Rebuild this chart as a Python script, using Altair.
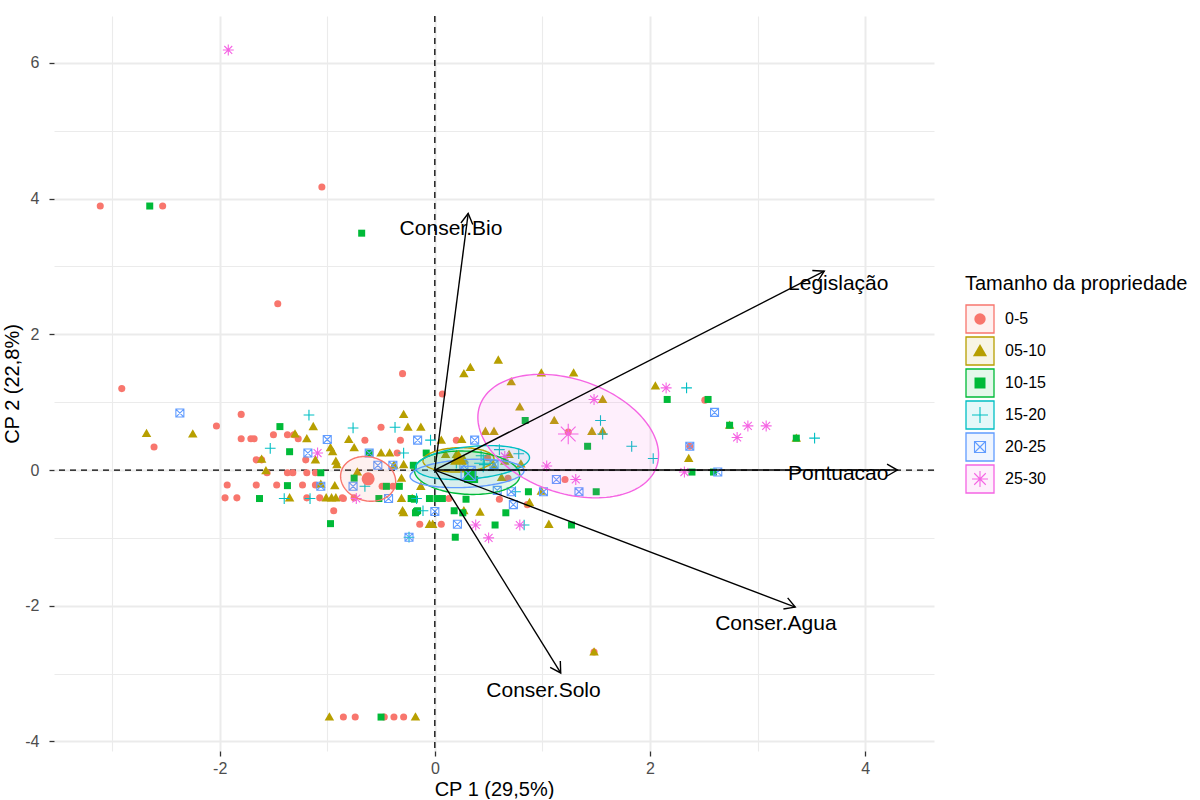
import numpy as np
import pandas as pd
import altair as alt

# ---------------- data ----------------
groups = ["0-5", "05-10", "10-15", "15-20", "20-25", "25-30"]
colors = ["#F8766D", "#B79F00", "#00BA38", "#00BFC4", "#619CFF", "#F564E3"]
legend_title = "Tamanho da propriedade"

g1_x = [-3.11, -2.53, -1.05, -1.46, -2.91, -0.30, 0.07, -2.61, -2.03, -1.80, -1.80, -1.71, -1.68,
        -1.50, -1.37, -1.31, -1.27, -1.66, -1.61, -1.20, -1.56, -1.37, -1.32, -1.19, -1.11,
        -1.93, -1.66, -1.47, -1.23, -1.11, -1.95, -1.84, -1.19, -1.07, -0.86, -0.75, -0.94,
        -0.65, -0.50, -0.32, 0.20, -0.49, -0.39, -0.35, -0.85, 0.13, -0.14, 0.06, 0.60, 0.86,
        1.21, 2.51, 2.37, 0.49, 0.68, 1.24, -0.85, -0.74, -0.47, -0.38, -0.29, 1.48]
g1_y = [3.89, 3.89, 4.17, 2.45, 1.20, 1.42, 1.12, 0.34, 0.65, 0.82, 0.46, 0.46, 0.46,
        0.52, 0.52, 0.52, 0.46, 0.15, 0.15, 0.15, -0.04, -0.04, -0.04, -0.04, -0.04,
        -0.22, -0.22, -0.22, -0.22, -0.22, -0.41, -0.41, -0.41, -0.41, -0.41, -0.41, -0.60,
        0.44, 0.63, 0.44, 0.44, -0.24, -0.24, 0.25, -0.42, -0.42, -0.80, -0.80, -0.43, -0.51,
        -0.14, 1.03, 0.35, 0.18, -0.12, 0.56, -3.64, -3.64, -3.64, -3.64, -3.64, -2.68]

g2_x = [-2.68, -2.25, -1.61, -1.30, -1.19, -1.13, -0.97, -0.95, -0.80, -0.75, -1.11, -0.92, -0.91,
        -1.57, -1.06, -0.93, -1.35, -1.01, -0.96, -0.92, -0.29, -0.25, -0.13, -0.50, -0.42, -0.38,
        -0.29, -0.72, -0.31, -0.13, -0.31, -0.21, -0.30, 0.27, -0.05, -0.02, 0.59, 0.27, 0.33,
        0.99, 1.29, 0.71, 0.79, 1.11, 0.47, 0.55, 0.25, 0.06, 1.46, 1.56, 1.56, 2.05, 2.36, 2.74,
        3.36, 0.99, 0.88, 0.42, 1.06, -0.29, 0.10, 0.20, 0.27, 0.55, 0.62, 0.65, 0.69, 0.80,
        -0.98, -0.18, 1.48]
g2_y = [0.54, 0.53, 0.16, 0.53, 0.46, 0.64, 0.33, 0.27, 0.45, 0.33, 0.15, 0.13, 0.08,
        -0.01, -0.21, -0.23, -0.41, -0.41, -0.41, -0.41, 0.82, 0.63, 0.63, 0.25, 0.25, 0.07,
        0.08, -0.03, -0.12, -0.24, -0.42, -0.42, -0.60, -0.60, -0.80, -0.80, 1.62, 1.42, 1.51,
        1.43, 1.43, 1.30, 0.93, 0.73, 0.57, 0.57, 0.45, 0.44, 0.57, 0.57, 1.04, 1.24, 0.17, 0.66,
        0.47, -0.31, -0.48, -0.62, -0.80, -0.63, 0.23, 0.23, 0.16, 0.06, -0.11, 0.13, 0.23, 0.09,
        -3.64, -3.64, -2.68]

g3_x = [-2.65, -0.68, -1.44, -1.35, -1.37, -1.63, -0.97, -1.06, -0.61, -0.08, -0.20, -0.75, -0.45,
        -0.52, -0.05, 0.02, 0.07, -0.16, 0.18, 0.19, -0.33, -0.22, -0.17, 0.84, 1.42, 2.16, 2.54,
        2.39, 2.59, 1.50, 0.87, 0.29, 0.66, 0.26, 0.56, 1.27, -0.18, -0.19, 2.74, 3.36, 0.32, 0.37,
        -0.50]
g3_y = [3.89, 3.49, 0.64, 0.27, -0.23, -0.42, -0.79, -0.04, 0.25, 0.25, 0.07, -0.12, -0.24,
        -0.42, -0.42, -0.42, -0.42, -0.60, -0.60, -0.99, -0.24, -0.42, -0.61, 0.73, 0.35, 1.04, 1.04,
        -0.03, -0.03, -0.32, -0.32, -0.43, -0.63, -0.63, -0.81, -0.81, -0.63, -0.43, 0.66, 0.47, -0.09,
        -0.14, -3.64]

g4_x = [-1.17, -1.53, -0.76, -1.40, -1.16, -0.37, -0.04, -0.29, -0.65, -0.17, -0.11, 1.54, 1.56,
        1.83, 2.03, 2.34, 0.75, 0.83, 3.53, 0.78, 0.43, 0.46, 0.20, 0.60, -0.24]
g4_y = [0.81, 0.32, 0.62, -0.42, -0.42, 0.63, 0.44, 0.25, -0.24, -0.42, -0.60, 0.73, 0.53,
        0.35, 0.17, 1.21, -0.32, -0.81, 0.47, 0.24, 0.21, 0.08, 0.10, 0.30, -0.99]

g5_x = [-2.37, -1.18, -1.00, -1.06, -0.61, -0.16, -0.53, -0.39, -0.76, -0.43, 0.00, 0.21, -0.24,
        0.37, 1.13, 1.34, 0.71, 1.01, 0.58, 0.73, 2.60, 2.63, 2.37, 0.32, 0.27, 0.55]
g5_y = [0.84, 0.25, 0.45, -0.24, 0.25, 0.44, 0.07, 0.07, -0.24, -0.42, -0.61, -0.80, -0.99,
        0.44, -0.14, -0.32, -0.32, -0.32, -0.30, -0.51, 0.85, -0.03, 0.35, -0.06, 0.06, 0.08]

g6_x = [-1.92, -1.09, -0.73, 1.48, 1.04, 1.31, 0.38, 0.79, 0.50, 2.15, 2.32, 2.91, 3.08, 2.81, 0.65]
g6_y = [6.19, 0.25, -0.42, 1.04, 0.06, -0.14, -0.81, -0.81, -1.00, 1.21, -0.03, 0.65, 0.65, 0.48, 0.20]

# group means (large symbols)
mean_x = [-0.62, 0.22, 0.33, 0.45, 0.31, 1.24]
mean_y = [-0.13, 0.17, -0.10, 0.10, -0.05, 0.53]

# confidence ellipses: centre, sd along x, sd along y, covariance
ell_cx = [-0.62, 0.22, 0.30, 0.35, 0.30, 1.24]
ell_cy = [-0.13, 0.15, -0.04, 0.11, -0.05, 0.50]
ell_sx = [0.256, 0.33, 0.49, 0.53, 0.53, 0.84]
ell_sy = [0.33, 0.18, 0.32, 0.25, 0.21, 0.91]
ell_cov = [-0.010, 0.005, -0.018, 0.039, 0.022, -0.231]

# variables (arrows)
var_names = ["Conser.Bio", "Legislação", "Pontuacao", "Conser.Agua", "Conser.Solo"]
var_x = [0.31, 3.62, 4.30, 3.35, 1.17]
var_y = [3.78, 2.93, 0.00, -2.02, -2.99]
lab_x = [0.15, 3.75, 3.75, 3.17, 1.01]
lab_y = [3.55, 2.74, -0.06, -2.27, -3.25]

# ---------------- style ----------------
W, H = 880, 735
XDOM = [-3.54, 4.64]
YDOM = [-4.14, 6.69]
FONT = "Liberation Sans"
TRI = "M0,-1L1,0.75L-1,0.75Z"
PLUS = "M-1,0L1,0M0,-1L0,1"
BOXX = "M-1,-1L1,-1L1,1L-1,1ZM-1,-1L1,1M-1,1L1,-1"
AST = "M-1,0L1,0M0,-1L0,1M-0.72,-0.72L0.72,0.72M-0.72,0.72L0.72,-0.72"
CHEV = "M-0.577,1L0,0L0.577,1"
shapes = ["circle", TRI, "square", PLUS, BOXX, AST]
pt_size = [50, 90, 49, 115, 64, 120]
mean_size = [170, 280, 150, 330, 200, 420]
leg_size = [130, 200, 121, 256, 121, 256]
filled_groups = groups[:3]

xs_all = [g1_x, g2_x, g3_x, g4_x, g5_x, g6_x]
ys_all = [g1_y, g2_y, g3_y, g4_y, g5_y, g6_y]

rows = []
for gi, g in enumerate(groups):
    for x, y in zip(xs_all[gi], ys_all[gi]):
        rows.append({"group": g, "x": x, "y": y, "sz": pt_size[gi]})
pts = pd.DataFrame(rows)

means = pd.DataFrame({"group": groups, "x": mean_x, "y": mean_y, "sz": mean_size})

# ellipse geometry from centre + covariance
area_rows, line_rows = [], []
for gi, g in enumerate(groups):
    S = np.array([[ell_sx[gi] ** 2, ell_cov[gi]], [ell_cov[gi], ell_sy[gi] ** 2]])
    L = np.linalg.cholesky(S)
    t = np.linspace(0, 2 * np.pi, 145)
    e = L @ np.vstack([np.cos(t), np.sin(t)])
    for k in range(e.shape[1]):
        line_rows.append({"group": g, "idx": k, "x": ell_cx[gi] + e[0, k], "y": ell_cy[gi] + e[1, k]})
    P = np.linalg.inv(S)
    a, b, d = P[0, 0], P[0, 1], P[1, 1]
    for th in np.linspace(np.pi, 0, 121):
        dx = ell_sx[gi] * np.cos(th)
        disc = max((b * dx) ** 2 - d * (a * dx ** 2 - 1), 0.0)
        lo = (-b * dx - np.sqrt(disc)) / d
        hi = (-b * dx + np.sqrt(disc)) / d
        area_rows.append({"group": g, "x": ell_cx[gi] + dx, "y": ell_cy[gi] + lo, "y2": ell_cy[gi] + hi})
ell_area = pd.DataFrame(area_rows)
ell_line = pd.DataFrame(line_rows)

sxp = W / (XDOM[1] - XDOM[0])
syp = H / (YDOM[1] - YDOM[0])
vars_df = pd.DataFrame({"name": var_names, "x": var_x, "y": var_y, "lx": lab_x, "ly": lab_y,
                        "ox": 0.0, "oy": 0.0})
vars_df["ang"] = np.degrees(np.arctan2(vars_df["x"] * sxp, vars_df["y"] * syp)) % 360

zero_df = pd.DataFrame({"v": [0.0]})

# ---------------- scales / axes ----------------
xscale = alt.Scale(domain=XDOM, nice=False, zero=False)
yscale = alt.Scale(domain=YDOM, nice=False, zero=False)
odd = "datum.value % 2 !== 0"
def mk_axis(title, vals, lab_pad, title_pad):
    return alt.Axis(values=vals, title=title, labelPadding=lab_pad, titlePadding=title_pad,
                    labelExpr="datum.value % 2 === 0 ? '' + datum.value : ''",
                    tickOpacity={"condition": {"test": odd, "value": 0}, "value": 1},
                    gridWidth={"condition": {"test": odd, "value": 1.1}, "value": 2})
xaxis = mk_axis("CP 1 (29,5%)", list(range(-3, 5)), 4, 3)
yaxis = mk_axis("CP 2 (22,8%)", list(range(-4, 7)), 10, 2)

def X(f):
    return alt.X(f, scale=xscale, axis=xaxis)
def Y(f):
    return alt.Y(f, scale=yscale, axis=yaxis)

cscale = alt.Scale(domain=groups, range=colors)
sscale = alt.Scale(domain=groups, range=shapes)
COL = alt.Color("group:N", scale=cscale, legend=None)
SHP = alt.Shape("group:N", scale=sscale, legend=None)
SZ = alt.Size("sz:Q", scale=None)

def sym_layers(df, xenc, yenc):
    f = df[df["group"].isin(filled_groups)]
    u = df[~df["group"].isin(filled_groups)]
    lf = alt.Chart(f).mark_point(filled=True, opacity=1).encode(x=xenc, y=yenc, color=COL, shape=SHP, size=SZ)
    lu = alt.Chart(u).mark_point(filled=False, opacity=1, strokeWidth=1.1).encode(
        x=xenc, y=yenc, color=COL, shape=SHP, size=SZ)
    return [lf, lu]

zero_h = alt.Chart(zero_df).mark_rule(color="black", strokeDash=[6, 5], strokeWidth=1.3).encode(y=Y("v:Q"))
zero_v = alt.Chart(zero_df).mark_rule(color="black", strokeDash=[6, 5], strokeWidth=1.3).encode(x=X("v:Q"))

ell_fill = alt.Chart(ell_area).mark_area(fillOpacity=0.1, orient="vertical").encode(
    x=X("x:Q"), y=Y("y:Q"), y2="y2:Q", color=COL, detail="group:N")
ell_out = alt.Chart(ell_line).mark_line(strokeWidth=1.4).encode(
    x=X("x:Q"), y=Y("y:Q"), color=COL, detail="group:N", order="idx:Q")

arrows = alt.Chart(vars_df).mark_rule(color="black", strokeWidth=1.4).encode(
    x=X("ox:Q"), y=Y("oy:Q"), x2="x:Q", y2="y:Q")
heads = alt.Chart(vars_df).mark_point(shape=CHEV, filled=False, size=430, strokeWidth=1.4,
                                      color="black", opacity=1).encode(
    x=X("x:Q"), y=Y("y:Q"), angle=alt.Angle("ang:Q", scale=None))
labels = alt.Chart(vars_df).mark_text(fontSize=21, color="black", align="center", baseline="middle",
                                      font=FONT).encode(x=X("lx:Q"), y=Y("ly:Q"), text="name:N")

main = alt.layer(
    zero_h, zero_v,
    *sym_layers(pts, X("x:Q"), Y("y:Q")),
    ell_fill, ell_out,
    *sym_layers(means, X("x:Q"), Y("y:Q")),
    arrows, heads, labels,
).properties(width=W, height=H)

# ---------------- legend panel ----------------
leg = pd.DataFrame({"group": groups, "sz": leg_size})
title_df = pd.DataFrame({"group": [legend_title]})
lscale = alt.Scale(type="point", domain=[legend_title] + groups, range=[271, 463], padding=0)
LY = alt.Y("group:N", scale=lscale, axis=None)
boxes = alt.Chart(leg).mark_square(size=784, fillOpacity=0.1, strokeOpacity=1, strokeWidth=1.3, opacity=1).encode(
    x=alt.value(15), y=LY,
    fill=alt.Fill("group:N", scale=cscale, legend=None),
    stroke=alt.Stroke("group:N", scale=cscale, legend=None))
leg_syms = sym_layers(leg, alt.value(15), LY)
leg_text = alt.Chart(leg).mark_text(align="left", baseline="middle", fontSize=16, font=FONT, color="black").encode(
    x=alt.value(40), y=LY, text="group:N")
leg_title = alt.Chart(title_df).mark_text(align="left", baseline="middle", fontSize=20, font=FONT,
                                          color="black", dy=-3).encode(
    x=alt.value(0), y=LY, text="group:N")
legend = alt.layer(boxes, *leg_syms, leg_text, leg_title).properties(width=230, height=H)

chart = alt.hconcat(main, legend, spacing=28).configure(
    font=FONT, padding={"left": 2, "top": 15, "right": 0, "bottom": 0}
).configure_view(stroke=None).configure_axis(
    domain=False, gridColor="#EBEBEB", tickColor="#333333", tickSize=5, tickWidth=1.3,
    labelColor="#4D4D4D", labelFontSize=16, titleFontSize=20,
    titleFontWeight="normal", titleColor="black", labelFont=FONT, titleFont=FONT
)

chart.save("out.html", embed_options={"renderer": "svg", "actions": False})
